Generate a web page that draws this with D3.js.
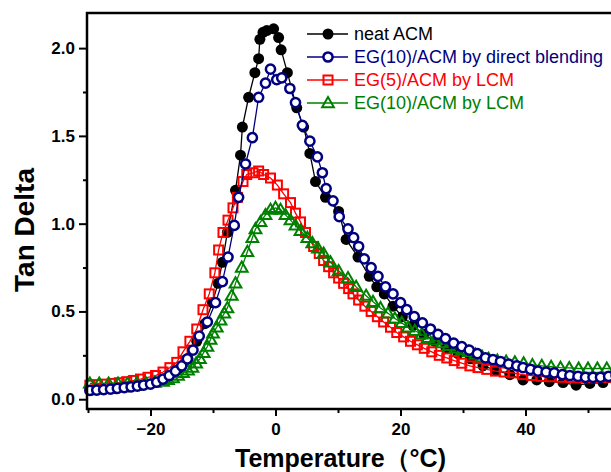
<!DOCTYPE html>
<html>
<head>
<meta charset="utf-8">
<script src="https://cdn.jsdelivr.net/npm/d3@7"></script>
<style>
  body { margin: 0; background: #fff; }
  svg { display: block; font-family: "Liberation Sans", Arial, sans-serif; }
</style>
</head>
<body>
<script>
let width = 611;
let height = 472;

// neat ACM
let neatT = [-29.5, -27.5, -25.5, -23.5, -21.5, -19.5, -17.5, -15.5, -14, -12.6, -11.3, -10.1, -9.2, -8.5, -7.7, -6.4, -5.6, -5.3, -4.3, -3.3, -2.7, -2.5, -2.0, -1.4, -0.3, 0.5, 0.9, 1.9, 3.4, 4.5, 5.5, 6.4, 8.0, 10.1, 11.3, 13.2, 15, 16.2, 17.4, 18.8, 20.3, 22, 23.7, 25.5, 27.3, 29.2, 31.2, 33.2, 35.3, 37.5, 39.6, 41.8, 43.8, 46, 48.1, 50.3, 52.4, 54.5];
let neatY = [0.05, 0.055, 0.06, 0.07, 0.08, 0.095, 0.12, 0.17, 0.23, 0.33, 0.43, 0.55, 0.66, 0.78, 0.95, 1.19, 1.39, 1.55, 1.72, 1.86, 1.94, 2.05, 2.09, 2.10, 2.11, 2.06, 1.99, 1.86, 1.66, 1.55, 1.40, 1.24, 1.15, 1.07, 0.91, 0.81, 0.70, 0.64, 0.60, 0.53, 0.47, 0.42, 0.37, 0.33, 0.29, 0.26, 0.23, 0.19, 0.165, 0.14, 0.11, 0.11, 0.10, 0.095, 0.08, 0.09, 0.095, 0.10];

// EG(10)/ACM by direct blending
let blendT = [-29.7, -28.6, -27.5, -26.4, -25.3, -24.2, -23.1, -22.1, -21.1, -20.0, -19.0, -18.0, -17.0, -16.0, -15.0, -14.1, -13.2, -12.2, -10.9, -9.6, -8.5, -7.6, -6.6, -5.9, -4.8, -3.7, -2.7, -1.6, -0.8, 0.2, 1.0, 2.3, 3.2, 4.3, 5.5, 6.7, 7.5, 8.1, 9.2, 10.2, 11.6, 12.5, 13.3, 14.2, 15.3, 16.4, 17.6, 18.8, 20.0, 21.0, 22.2, 23.5, 24.8, 26.0, 27.2, 28.5, 29.8, 31.0, 32.3, 33.6, 34.8, 36.0, 37.3, 38.6, 39.6, 40.8, 42.0, 43.3, 44.6, 45.9, 47.1, 48.4, 49.6, 50.8, 52.0, 53.3, 54.5];
let blendY = [0.05, 0.052, 0.055, 0.058, 0.062, 0.066, 0.07, 0.075, 0.08, 0.086, 0.097, 0.115, 0.135, 0.16, 0.19, 0.23, 0.28, 0.36, 0.44, 0.55, 0.67, 0.81, 0.99, 1.15, 1.34, 1.49, 1.72, 1.80, 1.88, 1.82, 1.83, 1.77, 1.69, 1.56, 1.47, 1.38, 1.29, 1.20, 1.13, 1.04, 0.97, 0.92, 0.87, 0.80, 0.75, 0.70, 0.64, 0.60, 0.55, 0.51, 0.47, 0.435, 0.40, 0.37, 0.345, 0.32, 0.30, 0.28, 0.26, 0.235, 0.225, 0.215, 0.20, 0.19, 0.18, 0.17, 0.16, 0.155, 0.15, 0.14, 0.135, 0.13, 0.125, 0.125, 0.125, 0.13, 0.135];

// EG(5)/ACM by LCM
let lcm5T = [-29.7, -28.5, -27.3, -26.1, -25, -23.8, -22.7, -21.6, -20.4, -19.2, -18.0, -16.9, -15.8, -14.8, -13.7, -12.6, -11.6, -10.6, -9.7, -9.1, -8.4, -7.6, -6.8, -6.1, -5.2, -4.6, -3.6, -2.7, -1.9, -0.8, 0.3, 1.3, 2.4, 3.2, 4.0, 4.8, 6.1, 7.0, 7.7, 8.5, 9.3, 10.1, 10.9, 11.7, 12.4, 13.3, 14.3, 15.3, 16.3, 17.3, 18.4, 19.4, 20.5, 21.6, 22.7, 23.8, 25, 26.2, 27.4, 28.6, 29.8, 31.1, 32.4, 33.8, 35.2, 36.6, 38, 39.5, 41, 42.5, 44, 45.6, 47.2, 48.8, 50.4, 52, 53.6];
let lcm5Y = [0.08, 0.083, 0.086, 0.09, 0.094, 0.10, 0.107, 0.115, 0.125, 0.135, 0.155, 0.18, 0.21, 0.27, 0.33, 0.40, 0.51, 0.60, 0.72, 0.85, 0.95, 1.02, 1.09, 1.15, 1.24, 1.28, 1.29, 1.30, 1.28, 1.26, 1.22, 1.17, 1.12, 1.06, 1.01, 0.95, 0.87, 0.83, 0.79, 0.755, 0.72, 0.69, 0.66, 0.63, 0.60, 0.565, 0.53, 0.50, 0.47, 0.44, 0.41, 0.38, 0.355, 0.33, 0.31, 0.29, 0.27, 0.25, 0.235, 0.22, 0.205, 0.19, 0.18, 0.17, 0.16, 0.155, 0.15, 0.14, 0.135, 0.13, 0.128, 0.125, 0.123, 0.122, 0.122, 0.123, 0.125];

// EG(10)/ACM by LCM
let lcm10T = [-29.7, -28.2, -26.7, -25.2, -23.7, -22.2, -20.7, -19.3, -18.0, -17.2, -16.4, -15.6, -14.8, -14.0, -13.3, -12.7, -12.1, -11.5, -10.9, -10.4, -10.0, -9.4, -8.8, -8.2, -7.7, -7.0, -6.4, -5.4, -4.5, -3.7, -3.2, -2.4, -1.6, -0.8, 0.0, 0.8, 1.6, 2.4, 3.2, 4.0, 5.1, 5.9, 6.8, 7.7, 8.8, 10.1, 11.6, 12.9, 14.5, 15.6, 16.8, 18.0, 19.1, 20.2, 21.2, 22.3, 23.4, 24.4, 25.5, 26.6, 27.7, 28.8, 29.9, 30.9, 32, 33.1, 34.1, 35.5, 36.9, 38.3, 39.7, 41.1, 42.6, 44.1, 45.6, 47, 48.5, 50, 51.5, 53, 54.5];
let lcm10Y = [0.09, 0.09, 0.09, 0.09, 0.09, 0.09, 0.09, 0.095, 0.10, 0.11, 0.12, 0.135, 0.15, 0.165, 0.18, 0.205, 0.23, 0.265, 0.30, 0.34, 0.375, 0.41, 0.45, 0.49, 0.52, 0.59, 0.66, 0.75, 0.84, 0.92, 0.97, 1.01, 1.05, 1.08, 1.09, 1.08, 1.05, 1.02, 0.99, 0.96, 0.92, 0.89, 0.86, 0.83, 0.78, 0.73, 0.69, 0.64, 0.59, 0.555, 0.52, 0.49, 0.46, 0.435, 0.41, 0.39, 0.37, 0.35, 0.335, 0.32, 0.305, 0.29, 0.28, 0.27, 0.255, 0.24, 0.23, 0.22, 0.215, 0.21, 0.205, 0.195, 0.19, 0.185, 0.18, 0.178, 0.175, 0.175, 0.175, 0.175, 0.175];

let legendNames = ['neat ACM', 'EG(10)/ACM by direct blending', 'EG(5)/ACM by LCM', 'EG(10)/ACM by LCM'];
let xTicks = [-20, 0, 20, 40];
let yTicks = [0.0, 0.5, 1.0, 1.5, 2.0];

let series = [
  { name: legendNames[0], t: neatT, v: neatY, color: '#000000', shape: 'dot' },
  { name: legendNames[1], t: blendT, v: blendY, color: '#000080', shape: 'circle' },
  { name: legendNames[2], t: lcm5T, v: lcm5Y, color: '#ff0000', shape: 'square' },
  { name: legendNames[3], t: lcm10T, v: lcm10Y, color: '#008000', shape: 'triangle' }
];

let svg = d3.select('body').append('svg')
            .attr('width', width)
            .attr('height', height);

let xScale = d3.scaleLinear().domain([-30, 60]).range([88, 650.5]);
let yScale = d3.scaleLinear().domain([-0.05, 2.2]).range([408, 13]);

let plot = svg.append('g');

function drawMarker(g, shape, color) {
  if (shape == 'dot') {
    g.append('circle').attr('r', 5.5).attr('fill', color);
  } else if (shape == 'circle') {
    g.append('circle').attr('r', 4.6).attr('fill', '#fff')
      .attr('stroke', color).attr('stroke-width', 2.5);
  } else if (shape == 'square') {
    g.append('rect').attr('x', -4.5).attr('y', -4.5).attr('width', 9).attr('height', 9)
      .attr('fill', 'none').attr('stroke', color).attr('stroke-width', 2);
  } else {
    g.append('path').attr('d', d3.symbol(d3.symbolTriangle, 60)())
      .attr('transform', 'translate(0,0.8)')
      .attr('fill', 'none').attr('stroke', color).attr('stroke-width', 2);
  }
}

let line = d3.line()
  .x(function(d) { return xScale(d[0]); })
  .y(function(d) { return yScale(d[1]); });

// draw order: black, red, green, blue on top
[0, 2, 3, 1].forEach(function(k) {
  let s = series[k];
  let pts = s.t.map(function(t, i) { return [t, s.v[i]]; });
  plot.append('path')
    .attr('d', line(pts))
    .attr('fill', 'none')
    .attr('stroke', s.color)
    .attr('stroke-width', 1.3);
  plot.selectAll(null)
    .data(pts)
    .enter()
    .append('g')
    .attr('transform', function(d) { return 'translate(' + xScale(d[0]) + ',' + yScale(d[1]) + ')'; })
    .each(function() { drawMarker(d3.select(this), s.shape, s.color); });
});

// axes
let xAxis = d3.axisBottom(xScale).tickValues(xTicks).tickSize(7).tickFormat(d3.format('d'));
let xMinor = d3.axisBottom(xScale).tickValues([-30, -10, 10, 30, 50]).tickSize(4).tickFormat('');
let yAxis = d3.axisLeft(yScale).tickValues(yTicks).tickSize(8).tickFormat(d3.format('.1f'));
let yMinor = d3.axisLeft(yScale).tickValues([0.25, 0.75, 1.25, 1.75]).tickSize(4).tickFormat('');

function styleAxis(g) {
  g.select('.domain').remove();
  g.selectAll('line').attr('stroke', '#000').attr('stroke-width', 2);
  g.selectAll('text').attr('fill', '#000')
    .style('font-size', '17px').style('font-weight', 'bold');
}

svg.append('g').attr('transform', 'translate(0,409)').call(xAxis).call(styleAxis)
  .selectAll('text').attr('dy', '0.95em');
svg.append('g').attr('transform', 'translate(0,409)').call(xMinor).call(styleAxis);
svg.append('g').attr('transform', 'translate(87,0)').call(yAxis).call(styleAxis)
  .selectAll('text').attr('x', -12);
svg.append('g').attr('transform', 'translate(87,0)').call(yMinor).call(styleAxis);

// frame (left, bottom, top)
svg.append('line').attr('x1', 87).attr('x2', 87).attr('y1', 12).attr('y2', 410)
  .attr('stroke', '#000').attr('stroke-width', 2.5);
svg.append('line').attr('x1', 86).attr('x2', width).attr('y1', 409).attr('y2', 409)
  .attr('stroke', '#000').attr('stroke-width', 2.5);
svg.append('line').attr('x1', 86).attr('x2', width).attr('y1', 13).attr('y2', 13)
  .attr('stroke', '#000').attr('stroke-width', 2.5);

// axis titles
svg.append('text')
  .attr('transform', 'translate(34,' + 230 + ') rotate(-90)')
  .attr('text-anchor', 'middle')
  .style('font-size', '28px').style('font-weight', 'bold')
  .text('Tan Delta');

svg.append('text')
  .attr('x', 235).attr('y', 467)
  .style('font-size', '25px').style('font-weight', 'bold')
  .text('Temperature（°C)');

// legend
let legend = svg.append('g');
series.forEach(function(s, i) {
  let ly = 34 + i * 23;
  legend.append('line').attr('x1', 307).attr('x2', 348).attr('y1', ly).attr('y2', ly)
    .attr('stroke', s.color).attr('stroke-width', 1.5);
  let m = legend.append('g').attr('transform', 'translate(328,' + ly + ')');
  drawMarker(m, s.shape, s.color);
  legend.append('text').attr('x', 354).attr('y', ly).attr('dy', '0.35em')
    .attr('fill', s.color)
    .style('font-size', '18px')
    .text(s.name);
});
</script>
</body>
</html>
